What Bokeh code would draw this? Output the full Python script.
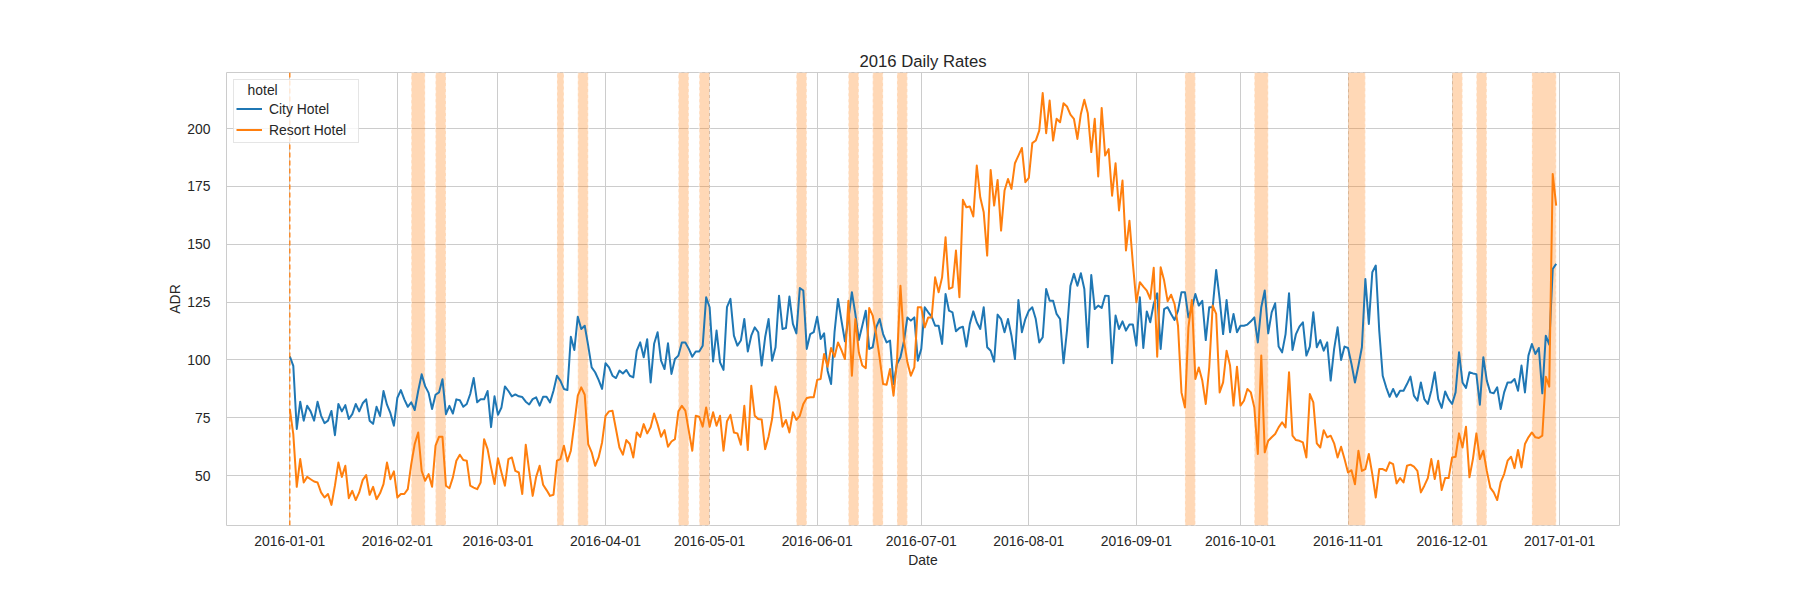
import pandas as pd
from bokeh.plotting import figure
from bokeh.models import (ColumnDataSource, Range1d, FixedTicker,
                          DatetimeTickFormatter, BoxAnnotation, Span)
from bokeh.embed import file_html
from bokeh.resources import INLINE

# daily average daily rate per hotel, 2016-01-01 .. 2016-12-31
first_day = "2016-01-01"

city_adr = [
    101.6, 97.5, 70.2, 82.0, 73.8, 80.2, 77.8, 73.8, 82.0, 76.0,
    72.7, 73.8, 78.0, 67.5, 81.0, 77.8, 80.5, 74.5, 76.6, 81.0,
    77.8, 81.3, 83.0, 73.8, 72.4, 79.8, 75.8, 86.6, 80.7, 77.0,
    71.6, 83.7, 87.0, 83.0, 79.8, 81.7, 78.4, 86.6, 93.8, 88.7,
    85.8, 78.8, 85.0, 86.0, 91.7, 76.6, 80.2, 76.9, 83.0, 82.6,
    79.8, 81.0, 85.3, 92.2, 81.7, 83.0, 83.0, 86.6, 71.0, 84.3,
    76.3, 79.5, 88.6, 86.6, 84.3, 85.1, 84.3, 84.0, 82.0, 80.8,
    83.1, 83.9, 80.3, 84.1, 84.1, 81.7, 86.7, 93.2, 91.0, 87.5,
    87.0, 110.0, 104.3, 118.7, 113.4, 114.8, 106.2, 96.8, 94.7, 91.4,
    87.5, 98.6, 96.8, 93.2, 92.2, 95.4, 94.2, 95.7, 93.2, 92.5,
    104.0, 107.6, 101.2, 109.0, 90.3, 107.0, 112.0, 99.7, 96.1, 107.2,
    94.0, 100.4, 101.9, 107.6, 107.6, 104.8, 101.4, 103.7, 103.7, 106.2,
    127.1, 122.8, 99.4, 112.7, 99.0, 95.7, 122.8, 126.4, 110.5, 106.2,
    108.4, 117.7, 103.7, 110.5, 114.1, 112.0, 97.6, 109.8, 117.7, 99.7,
    105.5, 127.8, 113.4, 113.8, 127.4, 115.6, 111.5, 131.1, 130.0, 104.8,
    111.2, 112.0, 118.7, 109.1, 111.5, 95.4, 89.6, 112.0, 126.4, 117.0,
    108.1, 117.7, 129.3, 119.9, 108.6, 114.8, 121.3, 104.8, 105.5, 114.1,
    117.7, 111.2, 107.6, 108.4, 89.6, 98.3, 101.2, 108.1, 118.4, 117.0,
    118.4, 99.7, 104.8, 122.8, 120.6, 118.7, 114.8, 114.8, 106.9, 128.5,
    121.3, 120.6, 112.4, 113.8, 114.4, 105.8, 115.6, 121.0, 116.3, 113.4,
    122.8, 105.5, 104.0, 99.3, 119.6, 117.7, 112.0, 117.7, 110.5, 100.4,
    125.9, 112.0, 117.7, 121.3, 122.8, 117.7, 107.6, 109.8, 130.7, 125.6,
    125.6, 119.9, 117.7, 98.6, 112.7, 132.1, 137.2, 132.1, 137.5, 130.7,
    105.5, 136.7, 122.0, 123.5, 122.5, 127.8, 127.7, 98.6, 119.2, 113.4,
    116.7, 112.7, 115.3, 115.3, 106.2, 127.1, 105.2, 121.0, 116.3, 124.2,
    128.8, 104.8, 122.0, 122.8, 119.9, 117.3, 121.3, 129.3, 129.3, 118.4,
    122.5, 128.5, 123.5, 125.6, 108.6, 122.8, 122.8, 138.9, 126.4, 111.2,
    125.9, 112.0, 119.9, 112.0, 114.8, 114.8, 115.3, 116.7, 118.4, 107.6,
    122.8, 130.0, 111.5, 120.6, 124.5, 105.8, 103.3, 111.2, 128.8, 104.3,
    111.2, 114.4, 116.3, 101.9, 105.8, 120.6, 105.5, 108.6, 104.0, 107.6,
    91.1, 104.8, 114.1, 100.0, 105.8, 105.2, 98.3, 90.3, 97.5, 105.5,
    135.0, 115.6, 137.9, 140.8, 112.7, 93.2, 88.2, 84.1, 87.5, 84.1,
    86.7, 86.7, 89.6, 92.8, 84.6, 82.4, 90.3, 83.1, 81.0, 86.7,
    94.7, 83.1, 79.3, 86.4, 83.1, 81.0, 86.0, 103.3, 90.3, 87.9,
    94.7, 94.2, 93.9, 80.7, 101.2, 91.1, 86.0, 85.6, 88.2, 78.8,
    86.0, 90.3, 90.3, 91.8, 86.7, 97.6, 86.0, 101.9, 106.9, 102.6,
    105.2, 85.6, 110.5, 106.6, 139.3, 141.5,
]

resort_adr = [
    78.8, 68.0, 45.2, 57.2, 47.1, 49.5, 48.5, 47.5, 47.1, 42.8,
    40.6, 42.1, 37.4, 45.7, 55.7, 49.5, 54.3, 40.3, 43.5, 39.5,
    42.8, 48.1, 50.3, 41.8, 45.2, 39.9, 42.4, 46.4, 55.7, 48.5,
    51.9, 40.6, 42.1, 42.1, 44.2, 55.0, 63.7, 68.7, 52.1, 47.8,
    50.7, 45.2, 63.0, 66.8, 66.8, 45.7, 44.6, 49.3, 56.5, 59.1,
    56.8, 56.5, 45.7, 44.9, 44.2, 47.1, 65.8, 61.5, 53.6, 46.4,
    57.6, 51.4, 45.7, 57.2, 57.9, 52.1, 51.4, 42.1, 63.4, 52.1,
    41.3, 49.5, 54.3, 46.1, 43.8, 41.3, 41.8, 56.5, 57.2, 63.0,
    56.2, 60.8, 72.3, 84.6, 88.2, 85.0, 63.7, 60.1, 54.3, 57.9,
    64.4, 75.9, 77.8, 78.1, 70.2, 62.2, 59.1, 65.4, 63.7, 57.9,
    68.7, 66.8, 72.3, 68.3, 70.9, 76.9, 72.3, 66.8, 69.7, 62.5,
    64.8, 65.8, 77.8, 80.2, 78.1, 69.4, 60.8, 75.9, 75.5, 71.2,
    79.5, 71.2, 77.4, 71.6, 75.9, 60.8, 73.5, 76.3, 68.7, 68.3,
    63.4, 80.2, 61.1, 88.9, 75.9, 74.5, 74.3, 61.5, 67.0, 74.5,
    88.5, 82.4, 71.2, 74.1, 68.7, 77.4, 74.1, 75.9, 81.0, 83.6,
    83.9, 83.9, 91.4, 91.8, 102.6, 97.1, 105.2, 101.4, 107.6, 104.3,
    100.4, 125.6, 93.2, 117.7, 103.3, 97.6, 96.5, 122.5, 119.2, 111.2,
    100.9, 89.6, 89.3, 96.1, 84.6, 99.7, 132.1, 108.4, 99.0, 93.2,
    96.8, 122.8, 122.8, 114.1, 118.4, 118.4, 135.7, 129.3, 135.7, 153.0,
    130.7, 131.4, 147.3, 127.1, 169.2, 166.0, 166.3, 162.0, 184.0, 170.3,
    163.8, 145.1, 182.1, 166.7, 177.8, 155.9, 173.2, 178.2, 173.9, 185.0,
    188.3, 191.6, 176.8, 178.7, 193.7, 194.8, 199.1, 215.3, 198.0, 212.1,
    194.8, 204.2, 202.7, 210.9, 209.5, 206.0, 204.2, 195.5, 206.3, 212.4,
    206.6, 189.8, 204.2, 179.3, 208.9, 188.3, 191.1, 171.0, 185.0, 164.6,
    177.5, 147.3, 160.2, 141.5, 124.9, 133.6, 131.7, 130.0, 126.4, 139.8,
    101.4, 140.1, 134.3, 125.4, 128.2, 124.2, 114.8, 86.0, 79.5, 114.1,
    125.9, 91.8, 96.8, 91.1, 81.0, 96.8, 123.5, 119.9, 86.0, 90.3,
    104.0, 97.6, 80.3, 97.1, 80.3, 82.4, 87.5, 86.0, 79.5, 59.4,
    101.9, 60.1, 65.1, 66.6, 68.0, 70.9, 73.1, 70.9, 94.7, 67.3,
    65.4, 65.1, 64.4, 57.9, 85.3, 81.7, 64.0, 62.2, 69.7, 66.6,
    67.3, 64.0, 57.9, 62.5, 57.2, 51.4, 52.4, 46.3, 60.8, 52.1,
    52.9, 59.4, 50.7, 40.6, 52.9, 52.9, 52.1, 55.8, 55.0, 46.7,
    49.0, 47.1, 54.3, 54.8, 53.9, 52.1, 42.8, 45.7, 49.0, 57.2,
    48.6, 56.5, 43.8, 49.0, 49.0, 57.9, 58.2, 68.3, 62.2, 71.2,
    49.3, 57.2, 68.3, 57.2, 60.8, 52.1, 44.9, 42.8, 39.5, 47.1,
    50.7, 56.5, 58.2, 53.3, 61.1, 53.6, 63.7, 66.6, 68.7, 66.6,
    66.3, 67.3, 92.8, 88.5, 180.4, 166.7,
]

# shaded holiday / long weekend periods
holiday_start = ["2016-02-05", "2016-02-12", "2016-03-18", "2016-03-24",
                 "2016-04-22", "2016-04-28", "2016-05-26", "2016-06-10",
                 "2016-06-17", "2016-06-24", "2016-09-15", "2016-10-05",
                 "2016-11-01", "2016-12-01", "2016-12-08", "2016-12-24"]
holiday_end = ["2016-02-09", "2016-02-15", "2016-03-20", "2016-03-27",
               "2016-04-25", "2016-05-01", "2016-05-29", "2016-06-13",
               "2016-06-20", "2016-06-27", "2016-09-18", "2016-10-09",
               "2016-11-06", "2016-12-04", "2016-12-11", "2016-12-31"]

month_ticks = ["2016-01-01", "2016-02-01", "2016-03-01", "2016-04-01",
               "2016-05-01", "2016-06-01", "2016-07-01", "2016-08-01",
               "2016-09-01", "2016-10-01", "2016-11-01", "2016-12-01",
               "2017-01-01"]
y_ticks = [50, 75, 100, 125, 150, 175, 200]

FONT = "Liberation Sans"
TEXT = "#262626"
GRID = "#cccccc"
BLUE = "#1f77b4"
ORANGE = "#ff7f0e"
NBSP = "\u00a0"


def ms(day):
    return pd.Timestamp(day).value / 1e6


def main():
    dates = pd.date_range(first_day, periods=len(city_adr), freq="D")
    src = ColumnDataSource(dict(date=dates, city=city_adr, resort=resort_adr))

    # matplotlib-like 5% margins
    x0, x1 = ms(dates[0]), ms(dates[-1])
    xpad = (x1 - x0) * 0.05
    lo = min(min(city_adr), min(resort_adr))
    hi = max(max(city_adr), max(resort_adr))
    ypad = (hi - lo) * 0.05

    p = figure(width=1784, height=584, x_axis_type="datetime",
               x_range=Range1d(x0 - xpad, x1 + xpad),
               y_range=Range1d(lo - ypad, hi + ypad),
               title="2016 Daily Rates",
               output_backend="svg", toolbar_location=None,
               min_border_left=226, min_border_right=165,
               min_border_top=72, min_border_bottom=59)
    p.background_fill_color = "white"
    p.border_fill_color = "white"
    p.outline_line_color = GRID
    p.outline_line_width = 1

    p.title.align = "center"
    p.title.text_font = FONT
    p.title.text_font_size = "16.7px"
    p.title.text_font_style = "normal"
    p.title.text_color = TEXT
    p.title.standoff = 4

    xt = FixedTicker(ticks=[ms(t) for t in month_ticks])
    yt = FixedTicker(ticks=y_ticks)
    p.xaxis.ticker = xt
    p.xgrid.ticker = xt
    p.yaxis.ticker = yt
    p.ygrid.ticker = yt
    fmt = "%Y-%m-%d"
    p.xaxis.formatter = DatetimeTickFormatter(days=fmt, months=fmt, years=fmt)

    for g in (p.xgrid, p.ygrid):
        g.grid_line_color = GRID
        g.grid_line_width = 1

    p.xaxis.axis_label = "Date"
    p.yaxis.axis_label = "ADR"
    for ax in (p.xaxis, p.yaxis):
        ax.axis_line_color = None
        ax.major_tick_line_color = None
        ax.minor_tick_line_color = None
        ax.major_label_text_font = FONT
        ax.major_label_text_font_size = "13.9px"
        ax.major_label_text_color = TEXT
        ax.axis_label_text_font = FONT
        ax.axis_label_text_font_size = "13.9px"
        ax.axis_label_text_font_style = "normal"
        ax.axis_label_text_color = TEXT
    p.xaxis.major_label_standoff = 4
    p.xaxis.axis_label_standoff = 3
    p.yaxis.major_label_standoff = 10
    p.yaxis.axis_label_standoff = 1

    for s, e in zip(holiday_start, holiday_end):
        p.add_layout(BoxAnnotation(left=ms(s), right=ms(e),
                                   fill_color=ORANGE, fill_alpha=0.3,
                                   line_color="white", line_alpha=0.6,
                                   line_dash="3 3", line_width=1.2,
                                   level="underlay"))

    p.line("date", "city", source=src, line_color=BLUE, line_width=2,
           line_join="round", legend_label="City Hotel")
    p.line("date", "resort", source=src, line_color=ORANGE, line_width=2,
           line_join="round", legend_label="Resort Hotel")

    p.add_layout(Span(location=ms(first_day), dimension="height",
                      line_color=ORANGE, line_dash="5 3", line_width=1.3))

    lg = p.legend[0]
    lg.location = "top_left"
    # leading no-break spaces to centre the title like matplotlib does
    lg.title = NBSP * 3 + "hotel"
    lg.title_text_font = FONT
    lg.title_text_font_size = "13.9px"
    lg.title_text_font_style = "normal"
    lg.title_text_color = TEXT
    lg.title_standoff = 0
    lg.label_text_font = FONT
    lg.label_text_font_size = "13.9px"
    lg.label_text_color = TEXT
    lg.margin = 7
    lg.padding = 2
    lg.spacing = 0
    lg.label_height = 21
    lg.glyph_height = 21
    lg.glyph_width = 26
    lg.label_standoff = 7
    lg.label_width = 87
    lg.border_line_color = GRID
    lg.background_fill_alpha = 0.8

    open("out.html", "w").write(file_html(p, INLINE))


if __name__ == '__main__':
    main()
